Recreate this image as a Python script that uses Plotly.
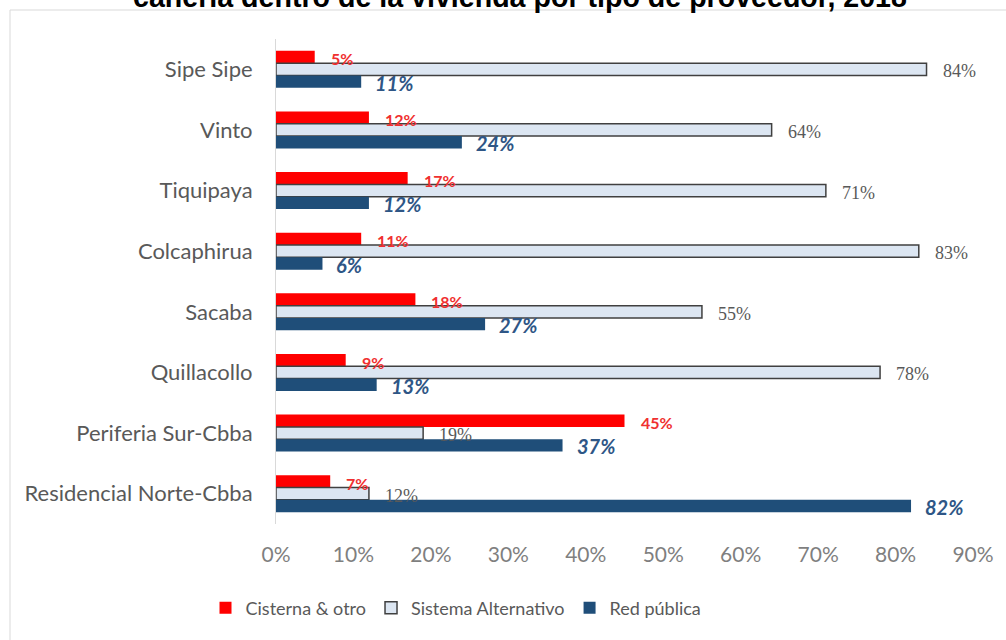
import plotly.graph_objects as go

# Municipal data: share of households by type of water provider (%)
categories = ["Sipe Sipe", "Vinto", "Tiquipaya", "Colcaphirua", "Sacaba",
              "Quillacollo", "Periferia Sur-Cbba", "Residencial Norte-Cbba"]
cisterna = [5, 12, 17, 11, 18, 9, 45, 7]
alternativo = [84, 64, 71, 83, 55, 78, 19, 12]
red_publica = [11, 24, 12, 6, 27, 13, 37, 82]
x_ticks = [0, 10, 20, 30, 40, 50, 60, 70, 80, 90]
x_tick_labels = [f"{v}%" for v in x_ticks]

title_text = "cañería dentro de la vivienda por tipo de proveedor, 2018"

W, H = 1006, 640
ML, MR, MT, MB = 276, 33, 39, 116
plot_w = W - ML - MR
plot_h = H - MT - MB

RED = "#FF0000"
LIGHT = "#DCE6F2"
NAVY = "#1F4E79"
GRAY_TXT = "#595959"
SANS = "Lato, 'Open Sans', sans-serif"

fig = go.Figure()
fig.add_trace(go.Bar(y=categories, x=cisterna, orientation="h", name="Cisterna & otro",
                     marker=dict(color=RED, line=dict(width=0))))
fig.add_trace(go.Bar(y=categories, x=alternativo, orientation="h", name="Sistema Alternativo",
                     marker=dict(color=LIGHT, line=dict(color="#404040", width=1.5))))
fig.add_trace(go.Bar(y=categories, x=red_publica, orientation="h", name="Red pública",
                     marker=dict(color=NAVY, line=dict(width=0))))

bargap = 0.39
band = plot_h / len(categories)
bar_px = band * (1 - bargap) / 3

annotations = []
for cat, c, a, r in zip(categories, cisterna, alternativo, red_publica):
    annotations.append(dict(x=c, y=cat, xref="x", yref="y", text=f"<b>{c}%</b>",
                            showarrow=False, xanchor="left", yanchor="middle",
                            xshift=14, yshift=bar_px - 2,
                            font=dict(family=SANS, size=16, color="#F03030")))
    annotations.append(dict(x=a, y=cat, xref="x", yref="y", text=f"{a}%",
                            showarrow=False, xanchor="left", yanchor="middle",
                            xshift=14, yshift=-2,
                            font=dict(family="'Liberation Serif', 'DejaVu Serif', serif",
                                      size=18, color=GRAY_TXT)))
    annotations.append(dict(x=r, y=cat, xref="x", yref="y", text=f"<b><i>{r}%</i></b>",
                            showarrow=False, xanchor="left", yanchor="middle",
                            xshift=12, yshift=-bar_px - 1,
                            font=dict(family=SANS, size=20, color="#2E5686")))

# Title, partly above the top edge of the page
annotations.append(dict(x=(520 - ML) / plot_w, y=1 + (MT + 3.5) / plot_h,
                        xref="paper", yref="paper", text=f"<b>{title_text}</b>",
                        showarrow=False, xanchor="center", yanchor="middle",
                        font=dict(family="'Liberation Sans', Arial, sans-serif",
                                  size=28.6, color="#000000")))

# Light grey frame around the chart area
shapes = [dict(type="rect", xref="paper", yref="paper",
               x0=(10 - ML) / plot_w, x1=(W + 5 - ML) / plot_w,
               y0=-(MB + 5) / plot_h, y1=1 + (MT - 10) / plot_h,
               line=dict(color="#D9D9D9", width=1), fillcolor="rgba(0,0,0,0)",
               layer="below")]

fig.update_layout(
    width=W, height=H,
    margin=dict(l=ML, r=MR, t=MT, b=MB),
    paper_bgcolor="white", plot_bgcolor="white",
    barmode="group", bargap=bargap, bargroupgap=0,
    annotations=annotations, shapes=shapes,
    showlegend=True,
    legend=dict(orientation="h", x=(456 - ML) / plot_w, xanchor="center",
                y=-(608 - MT - plot_h) / plot_h, yanchor="middle",
                font=dict(family=SANS, size=18, color=GRAY_TXT),
                traceorder="normal", itemwidth=30),
    xaxis=dict(range=[0, 90], tickvals=x_ticks, ticktext=x_tick_labels,
               showgrid=False, zeroline=False, showline=False,
               ticks="", ticklabelstandoff=16,
               tickfont=dict(family=SANS, size=21, color="#7F7F7F")),
    yaxis=dict(autorange="reversed", showgrid=False, zeroline=False,
               showline=True, linecolor="#D9D9D9", linewidth=1,
               ticks="", ticklabelstandoff=18,
               tickfont=dict(family=SANS, size=22, color=GRAY_TXT)),
)

fig.write_html("out.html")
